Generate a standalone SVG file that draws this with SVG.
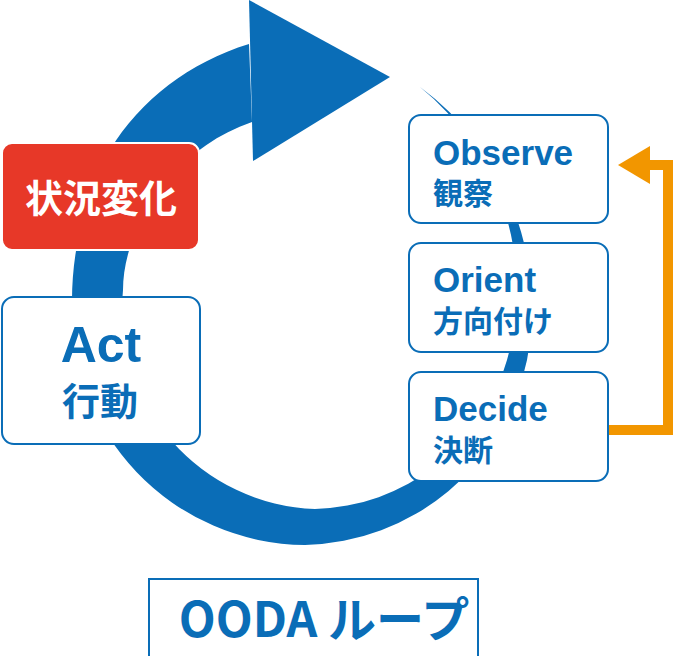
<svg xmlns="http://www.w3.org/2000/svg" width="680" height="656" viewBox="0 0 680 656">
<style>
.box{fill:#fff;stroke:#0a6db7;stroke-width:2}
.en{font-family:"Liberation Sans",Arial,sans-serif;font-weight:bold;fill:#0a6db7}
.ja{font-family:"Noto Sans CJK JP",sans-serif;font-weight:bold;fill:#0a6db7}
</style>
<rect width="680" height="656" fill="#fff"/>
<g id="connectors">
<path d="M249 44 C190 62 140 100 110 150 C85 195 72 250 72 300 A235 235 0 0 0 305 545 A232 232 0 0 0 527 360 A275 275 0 0 0 420 87 A260 260 0 0 1 507 360 A205 205 0 0 1 315 509 A200 200 0 0 1 123 290 C123 230 170 150 252 122 Z" fill="#0a6db7"/>
<path d="M249 0 L390 77 L253 161 Z" fill="#0a6db7"/>
<path d="M608 430 H668 V165 H640" fill="none" stroke="#f29600" stroke-width="10"/>
<path d="M618 165 L650 146 L650 184 Z" fill="#f29600"/>
</g>
<g id="change"><rect x="2" y="143" width="197" height="107" rx="10" fill="#e73828" stroke="#fff" stroke-width="2"/>
<text x="101" y="212" text-anchor="middle" class="ja" style="fill:#fff;font-size:38px">状況変化</text></g>
<g id="act"><rect class="box" x="2" y="297" width="198" height="147" rx="12"/>
<text x="101" y="362" text-anchor="middle" class="en" font-size="50">Act</text>
<text x="100" y="415" text-anchor="middle" class="ja" font-size="38">行動</text></g>
<g id="observe"><rect class="box" x="409" y="115" width="199" height="108" rx="12"/>
<text x="433" y="165" class="en" font-size="35">Observe</text>
<text x="433" y="204" class="ja" font-size="30">観察</text></g>
<g id="orient"><rect class="box" x="409" y="243" width="199" height="109" rx="12"/>
<text x="433" y="292" class="en" font-size="35">Orient</text>
<text x="433" y="332" class="ja" font-size="30">方向付け</text></g>
<g id="decide"><rect class="box" x="409" y="372" width="199" height="109" rx="12"/>
<text x="433" y="421" class="en" font-size="35">Decide</text>
<text x="433" y="461" class="ja" font-size="30">決断</text></g>
<g id="title"><rect class="box" x="149" y="579" width="329" height="80"/>
<text x="324" y="637" text-anchor="middle" class="ja" font-size="48">OODA ループ</text></g>
</svg>
